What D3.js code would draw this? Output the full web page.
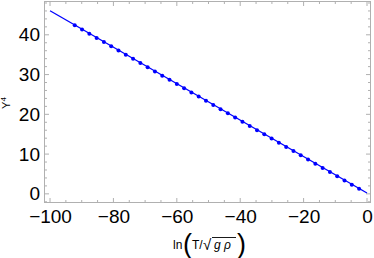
<!DOCTYPE html>
<html>
<head>
<meta charset="utf-8">
<script src="https://cdn.jsdelivr.net/npm/d3@7"></script>
<style>
  html, body { margin: 0; padding: 0; background: #fff; }
  svg { display: block; font-family: "Liberation Sans", Arial, sans-serif; }
</style>
</head>
<body>
<svg id="chart" width="374" height="258"></svg>
<script>
// sample points (ln(T/sqrt(g rho)), Y^4)
var pointX = [-92.2, -89.9, -87.6, -85.3, -83.0, -80.7, -78.4, -76.1, -73.8, -71.5,
              -69.2, -66.9, -64.6, -62.3, -60.0, -57.7, -55.4, -53.1, -50.8, -48.5,
              -46.2, -43.9, -41.6, -39.3, -37.0, -34.7, -32.4, -30.1, -27.8, -25.5,
              -23.2, -20.9, -18.6, -16.3, -14.0, -11.7, -9.4, -7.1, -4.8, -2.5];
var pointY = [42.40, 41.33, 40.27, 39.22, 38.17, 37.11, 36.06, 35.00, 33.95, 32.89,
              31.84, 30.78, 29.73, 28.67, 27.62, 26.57, 25.51, 24.46, 23.40, 22.35,
              21.29, 20.24, 19.18, 18.13, 17.07, 16.02, 14.97, 13.91, 12.86, 11.80,
              10.75, 9.69, 8.64, 7.58, 6.53, 5.47, 4.42, 3.37, 2.31, 1.26];
// fitted straight line
var lineX = [-100, 0];
var lineY = [46.05, 0.2];

var xTicks = [-100, -80, -60, -40, -20, 0];
var yTicks = [0, 10, 20, 30, 40];

var blue = '#0000ff';
var frameColor = '#b0b0b0';

var svg = d3.select('#chart');
var plotLeft = 44, plotRight = 371, plotTop = 1, plotBottom = 203;

var x = d3.scaleLinear().domain([-101.9, 1.26]).range([plotLeft, plotRight]);
var y = d3.scaleLinear().domain([-2.3, 48.5]).range([plotBottom, plotTop]);

// minor ticks, every 5 on x and every 2 on y
var xMinor = d3.range(-100, 1, 5).filter(function(v) { return xTicks.indexOf(v) < 0; });
var yMinor = d3.range(-2, 49, 2).filter(function(v) { return yTicks.indexOf(v) < 0; });

// frame
svg.append('rect')
  .attr('x', plotLeft + 0.5).attr('y', plotTop + 0.5)
  .attr('width', plotRight - plotLeft - 1).attr('height', plotBottom - plotTop - 1)
  .attr('fill', 'none').attr('stroke', frameColor).attr('stroke-width', 1);

// ticks pointing inward on all four sides
function drawTicks(values, len, side) {
  values.forEach(function(v) {
    var l = svg.append('line').attr('stroke', frameColor).attr('stroke-width', 1);
    if (side === 'bottom') l.attr('x1', x(v)).attr('x2', x(v)).attr('y1', plotBottom).attr('y2', plotBottom - len);
    if (side === 'top') l.attr('x1', x(v)).attr('x2', x(v)).attr('y1', plotTop).attr('y2', plotTop + len);
    if (side === 'left') l.attr('y1', y(v)).attr('y2', y(v)).attr('x1', plotLeft).attr('x2', plotLeft + len);
    if (side === 'right') l.attr('y1', y(v)).attr('y2', y(v)).attr('x1', plotRight).attr('x2', plotRight - len);
  });
}
['bottom', 'top'].forEach(function(s) { drawTicks(xTicks, 5, s); drawTicks(xMinor, 3, s); });
['left', 'right'].forEach(function(s) { drawTicks(yTicks, 5, s); drawTicks(yMinor, 3, s); });

// tick labels via d3 axes (lines hidden, labels only)
var xAxis = svg.append('g').attr('transform', 'translate(0,' + plotBottom + ')')
  .call(d3.axisBottom(x).tickValues(xTicks).tickSize(0).tickPadding(7));
xAxis.select('.domain').remove();
xAxis.selectAll('text').attr('font-size', 19).attr('fill', '#000')
  .style('font-family', '"Liberation Sans", Arial, sans-serif');

var yAxis = svg.append('g').attr('transform', 'translate(' + plotLeft + ',0)')
  .call(d3.axisLeft(y).tickValues(yTicks).tickSize(0).tickPadding(4));
yAxis.select('.domain').remove();
yAxis.selectAll('text').attr('font-size', 19).attr('fill', '#000')
  .style('font-family', '"Liberation Sans", Arial, sans-serif');

// fitted line
var line = d3.line().x(function(d) { return x(d[0]); }).y(function(d) { return y(d[1]); });
svg.append('path')
  .datum(d3.zip(lineX, lineY))
  .attr('d', line)
  .attr('fill', 'none').attr('stroke', blue).attr('stroke-width', 1.3);

// points
svg.append('g').selectAll('circle')
  .data(d3.zip(pointX, pointY))
  .enter().append('circle')
  .attr('cx', function(d) { return x(d[0]); })
  .attr('cy', function(d) { return y(d[1]); })
  .attr('r', 2)
  .attr('fill', blue);

// y label
svg.append('text')
  .attr('transform', 'translate(10,103) rotate(-90)')
  .attr('text-anchor', 'middle')
  .attr('font-size', 11)
  .text('Y')
  .append('tspan').attr('dy', -4).attr('font-size', 8).text('4');

// x label: ln(T/sqrt(g rho))
var xl = svg.append('g').attr('transform', 'translate(173,249)');
xl.append('text').attr('x', 0).attr('y', 0).attr('font-size', 12).text('ln');
xl.append('text').attr('x', 10).attr('y', 4).attr('font-size', 27)
  .style('font-weight', 300).text('(');
xl.append('text').attr('x', 19).attr('y', 0).attr('font-size', 12).text('T/');
xl.append('text').attr('x', 30).attr('y', 1).attr('font-size', 15).text('\u221A');
xl.append('line').attr('x1', 39).attr('x2', 63).attr('y1', -11.5).attr('y2', -11.5)
  .attr('stroke', '#000').attr('stroke-width', 0.9);
xl.append('text').attr('x', 41).attr('y', 0).attr('font-size', 12)
  .style('font-style', 'italic').text('g \u03C1');
xl.append('text').attr('x', 64).attr('y', 4).attr('font-size', 27)
  .style('font-weight', 300).text(')');
</script>
</body>
</html>
